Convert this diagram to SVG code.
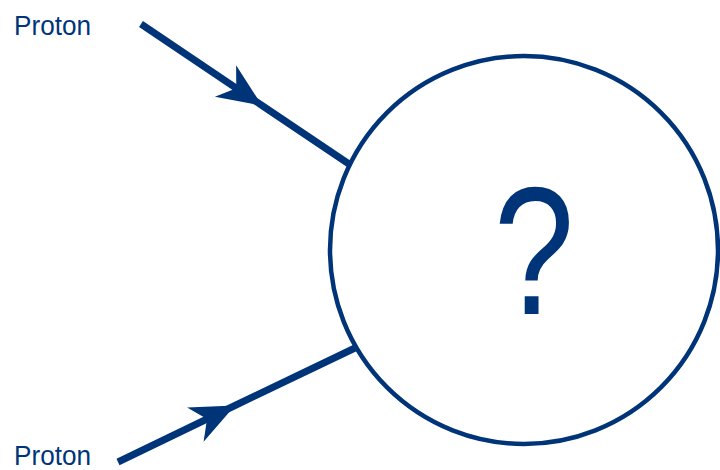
<svg xmlns="http://www.w3.org/2000/svg" width="720" height="470" viewBox="0 0 720 470">
<style>
.ink{fill:#003479;font-family:"Liberation Sans",Arial,sans-serif}
.line{stroke:#003479;stroke-width:7;fill:none;stroke-linecap:butt}
</style>
<defs>
<marker id="arrow" markerUnits="userSpaceOnUse" markerWidth="60" markerHeight="60" refX="50" refY="30" orient="auto" overflow="visible">
<polygon points="50,30 6,11 19,30 6,49" fill="#003479"/>
</marker>
</defs>
<rect width="720" height="470" fill="#ffffff"/>
<g id="connectors">
<polyline class="line" points="141,24 262,105.5 349,164" marker-mid="url(#arrow)"/>
<polyline class="line" points="118,462 235,405.5 355,348" marker-mid="url(#arrow)"/>
</g>
<g id="blob">
<circle cx="524" cy="250" r="194" fill="none" stroke="#003479" stroke-width="4.5"/>
<text class="ink" transform="translate(534,314) scale(0.8,1)" x="0" y="0" font-size="181" text-anchor="middle">?</text>
</g>
<g id="proton-top">
<text class="ink" x="14" y="35" font-size="27" textLength="77" lengthAdjust="spacingAndGlyphs">Proton</text>
</g>
<g id="proton-bottom">
<text class="ink" x="14" y="465" font-size="27" textLength="77" lengthAdjust="spacingAndGlyphs">Proton</text>
</g>
</svg>
